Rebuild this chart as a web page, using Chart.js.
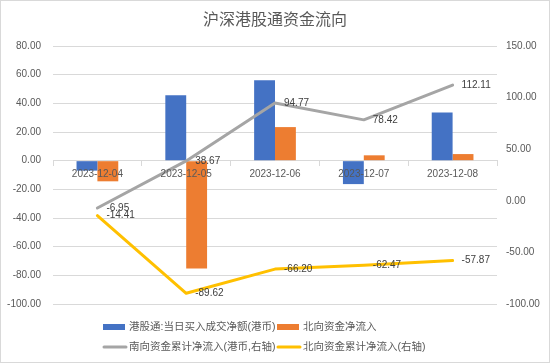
<!DOCTYPE html>
<html><head><meta charset="utf-8">
<script src="https://cdn.jsdelivr.net/npm/chart.js@4.4.0/dist/chart.umd.min.js"></script>
<style>html,body{margin:0;padding:0;background:#fff}canvas{display:block}</style>
</head><body>
<canvas id="c" width="550" height="363"></canvas>
<script>
const categories = ['2023-12-04','2023-12-05','2023-12-06','2023-12-07','2023-12-08'];
const southDaily = [-6.95, 45.62, 56.10, -16.35, 33.69];
const northDaily = [-14.41, -75.21, 23.42, 3.73, 4.60];
const southCum = [-6.95, 38.67, 94.77, 78.42, 112.11];
const northCum = [-14.41, -89.62, -66.20, -62.47, -57.87];
const seriesNames = ['港股通:当日买入成交净额(港币)','北向资金净流入','南向资金累计净流入(港币,右轴)','北向资金累计净流入(右轴)'];
const chartTitle = '沪深港股通资金流向';
const leftAxis = {min:-100, max:80, step:20};
const rightAxis = {min:-100, max:150, step:50};

const FONT = "'Liberation Sans','Noto Sans CJK SC',sans-serif";
const colors = ['#4472C4','#ED7D31','#A5A5A5','#FFC000'];
Chart.defaults.font.family = FONT;

const decor = {
  id:'decor',
  beforeDraw(chart){
    const ctx = chart.ctx; ctx.save();
    ctx.fillStyle = '#fff'; ctx.fillRect(0,0,chart.width,chart.height);
    ctx.restore();
  },
  afterDatasetsDraw(chart){
    const ctx = chart.ctx; ctx.save();
    ctx.font = '10px ' + FONT; ctx.fillStyle = '#404040';
    ctx.textAlign = 'left'; ctx.textBaseline = 'middle';
    [2,3].forEach(di => {
      const meta = chart.getDatasetMeta(di);
      const data = chart.data.datasets[di].data;
      meta.data.forEach((pt, i) => {
        ctx.fillText(data[i].toFixed(2), pt.x + 9, pt.y);
      });
    });
    ctx.restore();
  },
  afterDraw(chart){
    const ctx = chart.ctx; ctx.save();
    ctx.strokeStyle = '#D9D9D9'; ctx.lineWidth = 1;
    ctx.strokeRect(0.5,0.5,chart.width-1,chart.height-1);
    ctx.fillStyle = '#595959'; ctx.font = '16px ' + FONT;
    ctx.textAlign = 'center'; ctx.textBaseline = 'middle';
    ctx.fillText(chartTitle, chart.width/2, 21);
    // legend
    const pos = [[103,327],[277,327],[103,347],[277,347]];
    ctx.font = '10.5px ' + FONT; ctx.textAlign = 'left';
    chart.data.datasets.forEach((ds, i) => {
      const [x,y] = pos[i];
      if (ds.type === 'line') {
        ctx.strokeStyle = ds.borderColor; ctx.lineWidth = 3; ctx.lineCap='round';
        ctx.beginPath(); ctx.moveTo(x+1,y); ctx.lineTo(x+23,y); ctx.stroke();
      } else {
        ctx.fillStyle = ds.backgroundColor; ctx.fillRect(x, y-3, 22, 6);
      }
      ctx.fillStyle = '#595959';
      ctx.fillText(ds.label, x+26, y);
    });
    ctx.restore();
  }
};

new Chart(document.getElementById('c'), {
  type:'bar',
  data:{
    labels: categories,
    datasets:[
      {type:'bar', label:seriesNames[0], data:southDaily, backgroundColor:colors[0], yAxisID:'y', order:2},
      {type:'bar', label:seriesNames[1], data:northDaily, backgroundColor:colors[1], yAxisID:'y', order:2},
      {type:'line', label:seriesNames[2], data:southCum, borderColor:colors[2], backgroundColor:colors[2], borderWidth:3, pointRadius:0, tension:0, fill:false, yAxisID:'y1', order:1, borderJoinStyle:'round', borderCapStyle:'round'},
      {type:'line', label:seriesNames[3], data:northCum, borderColor:colors[3], backgroundColor:colors[3], borderWidth:3, pointRadius:0, tension:0, fill:false, yAxisID:'y1', order:1, borderJoinStyle:'round', borderCapStyle:'round'}
    ]
  },
  options:{
    responsive:false, animation:false, devicePixelRatio:1,
    layout:{padding:{top:46, bottom:59, left:0, right:0}},
    datasets:{bar:{barPercentage:1, categoryPercentage:0.47}},
    plugins:{legend:{display:false}, tooltip:{enabled:false}, title:{display:false}},
    scales:{
      x:{
        axis:'x', type:'category', position:{y:0}, offset:true,
        grid:{display:true, offset:true, drawOnChartArea:false, drawTicks:true, tickLength:5, color:'#D9D9D9'},
        border:{display:true, color:'#D9D9D9', width:1},
        ticks:{color:'#595959', font:{size:10}, padding:3, maxRotation:0, autoSkip:false, z:1}
      },
      y:{
        position:'left', min:leftAxis.min, max:leftAxis.max,
        ticks:{stepSize:leftAxis.step, color:'#595959', font:{size:10}, padding:12, callback:v=>v.toFixed(2)},
        grid:{color:'#D9D9D9', drawTicks:false},
        border:{display:false},
        afterFit(s){ s.width = 53; }
      },
      y1:{
        position:'right', min:rightAxis.min, max:rightAxis.max,
        ticks:{stepSize:rightAxis.step, color:'#595959', font:{size:10}, padding:9, callback:v=>v.toFixed(2)},
        grid:{display:false, drawTicks:false, drawOnChartArea:false},
        border:{display:false},
        afterFit(s){ s.width = 53; }
      }
    }
  },
  plugins:[decor]
});
</script>
</body></html>
